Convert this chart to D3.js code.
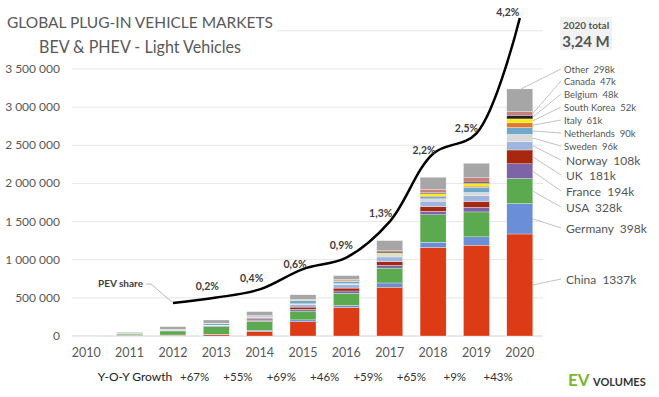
<!DOCTYPE html>
<html>
<head>
<meta charset="utf-8">
<script src="https://cdn.jsdelivr.net/npm/d3@7"></script>
<style>
  body { margin: 0; background: #fff; }
  text { font-family: Lato, "Open Sans", sans-serif; }
</style>
</head>
<body>
<script>
// data (thousands of vehicles)
const years = [2010, 2011, 2012, 2013, 2014, 2015, 2016, 2017, 2018, 2019, 2020];
const markets = ['China', 'Germany', 'USA', 'France', 'UK', 'Norway', 'Sweden',
    'Netherlands', 'Italy', 'South Korea', 'Belgium', 'Canada', 'Other'];
const china       = [1, 5, 10, 17, 60, 187, 376, 640, 1160, 1190, 1337];
const germany     = [0.5, 2, 3, 6, 13, 24, 25, 55, 68, 109, 398];
const usa         = [1, 18, 53, 97, 119, 116, 160, 195, 361, 327, 328];
const france      = [0.2, 3, 6, 9, 15, 23, 29, 37, 46, 61, 194];
const uk          = [0.2, 1, 2, 4, 15, 29, 38, 47, 60, 74, 181];
const norway      = [0.4, 2, 4, 8, 20, 34, 45, 62, 73, 80, 108];
const sweden      = [0, 0.2, 1, 1, 4, 9, 13, 20, 30, 40, 96];
const netherlands = [0.1, 1, 5, 23, 15, 44, 24, 11, 27, 67, 90];
const italy       = [0, 0.3, 0.5, 1, 1, 2, 3, 5, 10, 17, 61];
const southKorea  = [0, 0.3, 0.5, 1, 1, 3, 6, 14, 31, 35, 52];
const belgium     = [0, 0.3, 0.5, 1, 2, 5, 10, 14, 13, 18, 48];
const canada      = [0.2, 0.5, 2, 1, 5, 7, 12, 17, 44, 56, 47];
const other       = [4, 14, 35, 41, 49, 57, 50, 133, 157, 190, 298];
const series = [china, germany, usa, france, uk, norway, sweden, netherlands,
    italy, southKorea, belgium, canada, other];

// PEV share line (position, %) and its labels
const shareYears = [2012, 2013, 2014, 2015, 2016, 2017, 2018, 2019, 2020];
const shareLine = [0, 0.08, 0.2, 0.5, 0.67, 1.2, 2.2, 2.5, 4.2];
const shareLabelYears = [2013, 2014, 2015, 2016, 2017, 2018, 2019, 2020];
const shareLabels = ['0,2%', '0,4%', '0,6%', '0,9%', '1,3%', '2,2%', '2,5%', '4,2%'];

const growthYears = [2013, 2014, 2015, 2016, 2017, 2018, 2019, 2020];
const growth = ['+67%', '+55%', '+69%', '+46%', '+59%', '+65%', '+9%', '+43%'];

const yTicks = [0, 500000, 1000000, 1500000, 2000000, 2500000, 3000000, 3500000];
const gridTicks = [0, 500000, 1000000, 1500000, 2000000, 2500000, 3000000, 3500000, 4000000];

// styles / layout
const colors = ['#dd3b16', '#6b8fd7', '#5caa50', '#7c64a7', '#a8280f', '#a0b5de', '#d9d9d9',
    '#6fa9c9', '#de7a2b', '#fbe91a', '#222222', '#c9807a', '#a6a6a6'];
const labelY = [279, 228, 207, 191, 175, 160, 146, 133, 120, 107, 94, 81, 69];
const labelBig = [true, true, true, true, true, true, false, false, false, false, false, false, false];
const shareOffsets = [[-9, -12], [-8, -11], [-8, -5], [-5, -13], [-9, -9], [-9, -4], [-10, -5], [-12, -6]];

const width = 659, height = 397;
const svg = d3.select('body').append('svg')
    .attr('width', width)
    .attr('height', height);

const x = d3.scaleBand().domain(years).range([64.5, 541.5]).paddingInner(0.4).paddingOuter(0.2);
const y = d3.scaleLinear().domain([0, 4000000]).range([336, 30.8]);
const yShare = d3.scaleLinear().domain([0, 4.2]).range([303, 18]);

// gridlines
svg.append('g').selectAll('line').data(gridTicks).join('line')
    .attr('x1', 72).attr('x2', 543)
    .attr('y1', d => y(d)).attr('y2', d => y(d))
    .attr('stroke', d => d === 0 ? '#d4d4d4' : '#e6e6e6')
    .attr('stroke-width', 1);

// y labels
const fmt = v => d3.format(',')(v).replace(/,/g, ' ');
svg.append('g').selectAll('text').data(yTicks).join('text')
    .attr('x', 60).attr('y', d => y(d) + 4)
    .attr('text-anchor', 'end')
    .attr('font-size', 12).attr('fill', '#595959')
    .text(fmt);

// stacked bars
const rows = years.map((yr, i) => {
    let r = { year: yr };
    markets.forEach((m, j) => r[m] = series[j][i] * 1000);
    return r;
});
const stack = d3.stack().keys(markets)(rows);
svg.append('g').selectAll('g').data(stack).join('g')
    .attr('fill', (d, i) => colors[i])
    .selectAll('rect').data(d => d).join('rect')
    .attr('x', d => x(d.data.year))
    .attr('width', x.bandwidth())
    .attr('y', d => y(d[1]))
    .attr('height', d => Math.max(0, y(d[0]) - y(d[1])))
    .attr('stroke', '#fff').attr('stroke-width', 0.3);

// x labels
svg.append('g').selectAll('text').data(years).join('text')
    .attr('x', d => x(d) + x.bandwidth() / 2).attr('y', 357)
    .attr('text-anchor', 'middle')
    .attr('font-size', 12.5).attr('fill', '#595959')
    .text(d => d);

// growth row
svg.append('text').attr('x', 135).attr('y', 381)
    .attr('text-anchor', 'middle')
    .attr('font-family', 'Liberation Sans, Arial')
    .attr('font-size', 12).attr('fill', '#222')
    .text('Y-O-Y Growth');
svg.append('g').selectAll('text').data(growth).join('text')
    .attr('x', (d, i) => x(growthYears[i]) + x.bandwidth() / 2 - x.step() / 2)
    .attr('y', 381)
    .attr('text-anchor', 'middle')
    .attr('font-family', 'Liberation Sans, Arial')
    .attr('font-size', 11.5).attr('fill', '#333')
    .text(d => d);

// share line
const line = d3.line()
    .x((d, i) => x(shareYears[i]) + x.bandwidth() / 2)
    .y(d => yShare(d))
    .curve(d3.curveCatmullRom.alpha(0.5));
svg.append('path').datum(shareLine)
    .attr('d', line)
    .attr('fill', 'none')
    .attr('stroke', '#000')
    .attr('stroke-width', 2.5);

svg.append('g').selectAll('text').data(shareLabels).join('text')
    .attr('x', (d, i) => x(shareLabelYears[i]) + x.bandwidth() / 2 + shareOffsets[i][0])
    .attr('y', (d, i) => yShare(shareLine[i + 1]) + shareOffsets[i][1] + 4)
    .attr('text-anchor', 'middle')
    .attr('font-size', 10.5).attr('font-weight', 'bold').attr('fill', '#404040')
    .text(d => d);

// PEV share callout
svg.append('polyline')
    .attr('points', [[146, 284], [151, 284], [x(2012) + x.bandwidth() / 2 - 1, yShare(shareLine[0]) - 1]].join(' '))
    .attr('fill', 'none').attr('stroke', '#a6a6a6').attr('stroke-width', 0.8);
svg.append('text').attr('x', 143).attr('y', 287)
    .attr('text-anchor', 'end')
    .attr('font-size', 10).attr('font-weight', 'bold').attr('fill', '#404040')
    .text('PEV share');

// 2020 labels with leader lines
const last = years.length - 1;
const barRight = x(2020) + x.bandwidth();
const legend = svg.append('g');
stack.forEach((s, i) => {
    let seg = s[last];
    let ty = labelY[i];
    let ex = i === markets.length - 1 ? x(2020) + x.bandwidth() * 0.55 : barRight;
    let ey = i === markets.length - 1 ? y(seg[1]) : y((seg[0] + seg[1]) / 2);
    legend.append('line')
        .attr('x1', 561).attr('y1', ty)
        .attr('x2', ex).attr('y2', ey)
        .attr('stroke', '#b3b3b3').attr('stroke-width', 0.8);
    legend.append('text')
        .attr('x', labelBig[i] ? 566 : 564)
        .attr('y', ty + (labelBig[i] ? 4.5 : 3.5))
        .attr('font-size', labelBig[i] ? 12 : 9.5)
        .attr('fill', '#555')
        .attr('xml:space', 'preserve')
        .text(markets[i] + '  ' + series[i][last] + 'k');
});

// 2020 total box
const total = d3.sum(series, s => s[last]);
svg.append('rect').attr('x', 560).attr('y', 17).attr('width', 52).attr('height', 33)
    .attr('fill', '#f2f2f2');
svg.append('text').attr('x', 586).attr('y', 29)
    .attr('text-anchor', 'middle').attr('font-size', 10).attr('font-weight', 'bold').attr('fill', '#555')
    .text('2020 total');
svg.append('text').attr('x', 586).attr('y', 47)
    .attr('text-anchor', 'middle').attr('font-size', 15).attr('font-weight', 'bold').attr('fill', '#555')
    .text(d3.format('.2f')(total / 1000).replace('.', ',') + ' M');

// title (covers the top gridline on the left)
svg.append('rect').attr('x', 0).attr('y', 0).attr('width', 277).attr('height', 58).attr('fill', '#fff');
svg.append('text').attr('x', 7).attr('y', 28)
    .attr('font-size', 16).attr('fill', '#595959')
    .attr('textLength', 266).attr('lengthAdjust', 'spacingAndGlyphs')
    .text('GLOBAL PLUG-IN VEHICLE MARKETS');
svg.append('text').attr('x', 39).attr('y', 53)
    .attr('font-size', 16.5).attr('fill', '#595959')
    .attr('textLength', 202).attr('lengthAdjust', 'spacingAndGlyphs')
    .text('BEV & PHEV - Light Vehicles');

// logo
svg.append('text').attr('x', 568).attr('y', 386)
    .attr('font-family', 'Liberation Sans, Arial')
    .attr('font-size', 17).attr('font-weight', 'bold').attr('fill', '#7ab72e')
    .text('EV');
svg.append('text').attr('x', 593).attr('y', 386)
    .attr('font-family', 'Liberation Sans, Arial')
    .attr('font-size', 11).attr('font-weight', 'bold').attr('fill', '#333')
    .text('VOLUMES');
</script>
</body>
</html>
